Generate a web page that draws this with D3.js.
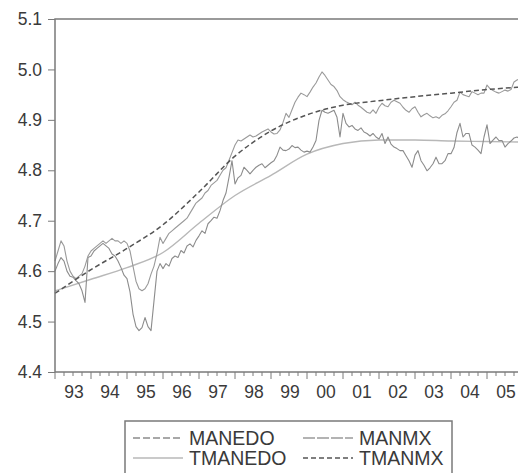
<!DOCTYPE html>
<html>
<head>
<meta charset="utf-8" />
<script src="https://cdnjs.cloudflare.com/ajax/libs/d3/7.8.5/d3.min.js"></script>
<style>
  body { margin: 0; background: #fff; }
  svg { display: block; font-family: "Liberation Sans", Arial, sans-serif; }
</style>
</head>
<body>
<div id="chart"></div>
<script>
  // monthly observations, Jan 1993 .. Dec 2005 (12 per row)
  const manedo = [
    4.600, 4.615, 4.627, 4.620, 4.600, 4.590, 4.588, 4.581, 4.575, 4.561, 4.538, 4.627,
    4.630, 4.640, 4.645, 4.650, 4.655, 4.650, 4.645, 4.634, 4.630, 4.620, 4.607, 4.592,
    4.585, 4.559, 4.515, 4.490, 4.482, 4.488, 4.508, 4.490, 4.482, 4.541, 4.600, 4.615,
    4.605, 4.615, 4.610, 4.625, 4.630, 4.627, 4.641, 4.636, 4.650, 4.654, 4.648, 4.661,
    4.670, 4.680, 4.675, 4.694, 4.700, 4.707, 4.705, 4.720, 4.740, 4.755, 4.786, 4.819,
    4.773, 4.785, 4.790, 4.806, 4.800, 4.793, 4.800, 4.806, 4.810, 4.813, 4.805, 4.810,
    4.815, 4.819, 4.830, 4.846, 4.840, 4.839, 4.842, 4.849, 4.845, 4.846, 4.840, 4.836,
    4.838, 4.836, 4.846, 4.859, 4.899, 4.919, 4.915, 4.913, 4.916, 4.919, 4.905, 4.866,
    4.913, 4.893, 4.886, 4.889, 4.882, 4.879, 4.884, 4.876, 4.873, 4.868, 4.873, 4.866,
    4.862, 4.873, 4.853, 4.866, 4.852, 4.846, 4.843, 4.839, 4.839, 4.829, 4.819, 4.806,
    4.830, 4.839, 4.819, 4.810, 4.799, 4.805, 4.813, 4.826, 4.813, 4.813, 4.819, 4.833,
    4.833, 4.845, 4.875, 4.893, 4.866, 4.873, 4.873, 4.850, 4.846, 4.840, 4.833, 4.866,
    4.890, 4.853, 4.860, 4.866, 4.859, 4.859, 4.846, 4.853, 4.858, 4.864, 4.866, 4.862
  ]
  const manmx = [
    4.620, 4.640, 4.660, 4.650, 4.620, 4.600, 4.590, 4.585, 4.590, 4.595, 4.610, 4.630,
    4.640, 4.645, 4.650, 4.655, 4.660, 4.655, 4.660, 4.665, 4.660, 4.660, 4.655, 4.660,
    4.655, 4.640, 4.610, 4.580, 4.565, 4.561, 4.565, 4.575, 4.594, 4.610, 4.635, 4.667,
    4.655, 4.665, 4.675, 4.680, 4.685, 4.690, 4.695, 4.700, 4.705, 4.715, 4.725, 4.735,
    4.740, 4.745, 4.755, 4.760, 4.770, 4.775, 4.780, 4.790, 4.800, 4.805, 4.820, 4.835,
    4.850, 4.860, 4.858, 4.862, 4.866, 4.870, 4.866, 4.868, 4.872, 4.876, 4.879, 4.882,
    4.876, 4.872, 4.873, 4.880, 4.895, 4.913, 4.905, 4.920, 4.935, 4.945, 4.953, 4.950,
    4.946, 4.955, 4.965, 4.973, 4.985, 4.995, 4.988, 4.979, 4.970, 4.966, 4.958, 4.946,
    4.940, 4.936, 4.933, 4.930, 4.935, 4.929, 4.925, 4.920, 4.915, 4.913, 4.920, 4.913,
    4.925, 4.933, 4.928, 4.926, 4.935, 4.939, 4.936, 4.933, 4.925, 4.919, 4.915, 4.922,
    4.926, 4.915, 4.906, 4.910, 4.913, 4.908, 4.904, 4.906, 4.903, 4.909, 4.912, 4.918,
    4.926, 4.935, 4.939, 4.955, 4.950, 4.948, 4.946, 4.956, 4.953, 4.950, 4.953, 4.953,
    4.969, 4.962, 4.958, 4.955, 4.953, 4.956, 4.959, 4.957, 4.960, 4.975, 4.979, 4.982
  ]
  // smooth trends, read at the start of each year
  const trendYears = [1993, 1994, 1995, 1996, 1997, 1998, 1999, 2000, 2001, 2002, 2003, 2004, 2005, 2005.92]
  const tmanedo = [4.561, 4.584, 4.607, 4.637, 4.695, 4.750, 4.790, 4.832, 4.853, 4.860, 4.860, 4.858, 4.857, 4.856]
  const tmanmx  = [4.556, 4.603, 4.645, 4.692, 4.757, 4.828, 4.878, 4.910, 4.929, 4.938, 4.946, 4.953, 4.960, 4.965]

  const yTicks = [4.4, 4.5, 4.6, 4.7, 4.8, 4.9, 5.0, 5.1]
  const yearLabels = ['93', '94', '95', '96', '97', '98', '99', '00', '01', '02', '03', '04', '05']
  const legendNames = ['MANEDO', 'MANMX', 'TMANEDO', 'TMANMX']

  const W = 518, H = 473
  const margin = { left: 55, top: 19, bottom: 372 }
  const lastObs = 1993 + (manedo.length - 1) / 12

  const x = d3.scaleLinear().domain([1993, lastObs]).range([margin.left, margin.left + (lastObs - 1993) * 36])
  const y = d3.scaleLinear().domain([4.4, 5.1]).range([margin.bottom, margin.top])

  const svg = d3.select('#chart')
    .append('svg')
    .attr('width', W)
    .attr('height', H)

  const styles = {
    MANEDO:  { color: '#8c8c8c', width: 1.1, dash: null },
    MANMX:   { color: '#9a9a9a', width: 1.1, dash: null },
    TMANEDO: { color: '#b8b8b8', width: 1.4, dash: null },
    TMANMX:  { color: '#555555', width: 1.5, dash: '5,3' }
  }

  const monthly = arr => arr.map((v, i) => ({ t: 1993 + i / 12, v: v }))
  const yearly = arr => arr.map((v, i) => ({ t: trendYears[i], v: v }))

  const line = d3.line().x(d => x(d.t)).y(d => y(d.v))
  const smooth = d3.line().x(d => x(d.t)).y(d => y(d.v)).curve(d3.curveMonotoneX)

  const series = [
    { name: 'TMANEDO', pts: yearly(tmanedo), gen: smooth },
    { name: 'MANEDO', pts: monthly(manedo), gen: line },
    { name: 'MANMX', pts: monthly(manmx), gen: line },
    { name: 'TMANMX', pts: yearly(tmanmx), gen: smooth }
  ]

  svg.append('g')
    .selectAll('path')
    .data(series)
    .enter()
    .append('path')
      .attr('d', d => d.gen(d.pts))
      .attr('fill', 'none')
      .attr('stroke', d => styles[d.name].color)
      .attr('stroke-width', d => styles[d.name].width)
      .attr('stroke-dasharray', d => styles[d.name].dash)
      .attr('stroke-linejoin', 'round')

  // frame
  svg.append('rect')
    .attr('x', x(1993))
    .attr('y', y(5.1))
    .attr('width', x(lastObs) - x(1993))
    .attr('height', y(4.4) - y(5.1))
    .attr('fill', 'none')
    .attr('stroke', '#7a7a7a')
    .attr('stroke-width', 1.5)

  // y axis
  const yAxis = svg.append('g')
    .attr('transform', 'translate(' + x(1993) + ',0)')
    .call(d3.axisLeft(y).tickValues(yTicks).tickFormat(d3.format('.1f')).tickSize(7).tickPadding(6))
  yAxis.select('.domain').remove()
  yAxis.selectAll('line').attr('stroke', '#7a7a7a')
  yAxis.selectAll('text').attr('font-size', 17.5).attr('fill', '#3a3a3a').attr('font-family', null)

  // x axis: quarter ticks, year ticks, labels mid-year
  const quarters = d3.range(0, (lastObs - 1993) * 4 + 1).map(i => 1993 + i / 4)
  const xg = svg.append('g')
  xg.selectAll('line')
    .data(quarters)
    .enter()
    .append('line')
      .attr('x1', d => x(d))
      .attr('x2', d => x(d))
      .attr('y1', y(4.4))
      .attr('y2', d => y(4.4) + (Number.isInteger(d) ? 7 : 4))
      .attr('stroke', '#7a7a7a')
      .attr('stroke-width', 1)
  xg.selectAll('text')
    .data(yearLabels)
    .enter()
    .append('text')
      .attr('x', (d, i) => x(1993 + i + 0.5) + 1)
      .attr('y', 398)
      .attr('text-anchor', 'middle')
      .attr('font-size', 17.5)
      .attr('fill', '#3a3a3a')
      .text(d => d)

  // legend
  const lg = svg.append('g')
  lg.append('rect')
    .attr('x', 125).attr('y', 421)
    .attr('width', 327).attr('height', 70)
    .attr('fill', '#fff')
    .attr('stroke', '#7a7a7a')
    .attr('stroke-width', 1.5)

  const legendDash = { MANEDO: '7,3', MANMX: '12,2', TMANEDO: null, TMANMX: '5,3' }
  const items = lg.selectAll('g.item')
    .data(legendNames)
    .enter()
    .append('g')
      .attr('class', 'item')
      .attr('transform', (d, i) => 'translate(' + (i % 2 ? 303 : 133) + ',' + (i < 2 ? 438 : 458) + ')')
  items.append('line')
    .attr('x1', 0).attr('x2', 50)
    .attr('stroke', d => styles[d].color)
    .attr('stroke-width', 1.5)
    .attr('stroke-dasharray', d => legendDash[d])
  items.append('text')
    .attr('x', 56)
    .attr('y', 7)
    .attr('font-size', 19.5)
    .attr('fill', '#3a3a3a')
    .text(d => d)
</script>
</body>
</html>
